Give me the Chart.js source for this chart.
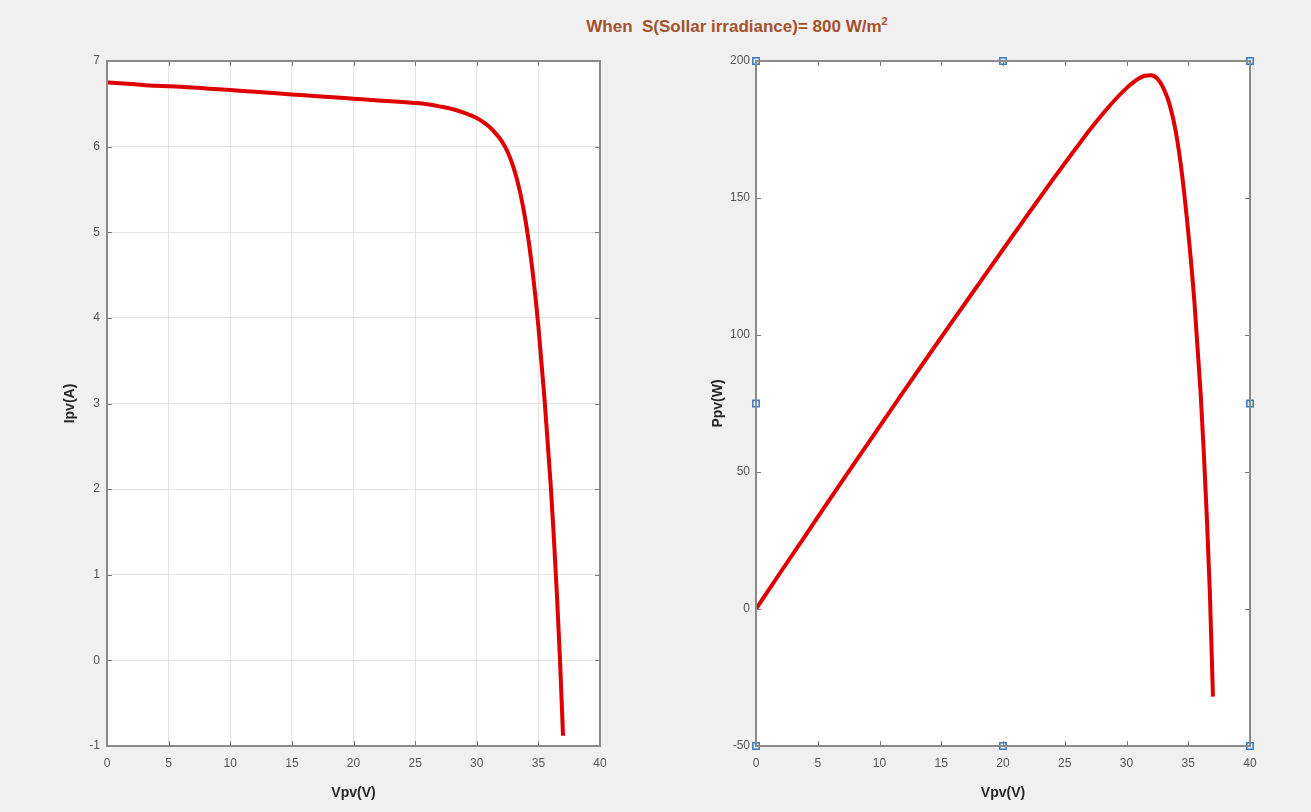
<!DOCTYPE html>
<html>
<head>
<meta charset="utf-8">
<script src="https://cdn.jsdelivr.net/npm/chart.js@4.4.0/dist/chart.umd.min.js"></script>
<style>
  html, body { margin: 0; padding: 0; background: #f0f0f0; }
  #wrap { position: relative; width: 1311px; height: 812px; overflow: hidden; }
  #title {
    position: absolute; left: 0; width: 1474px; top: 15px; text-align: center;
    font-family: "Liberation Sans", Arial, sans-serif; font-weight: bold; font-size: 17px;
    color: #a3522a; white-space: pre;
  }
  #title sup { font-size: 11px; }
  canvas { position: absolute; top: 0; }
  #left { left: 0; }
  #right { left: 660px; }
</style>
</head>
<body>
<div id="wrap">
  <div id="title">When  S(Sollar irradiance)= 800 W/m<sup>2</sup></div>
  <canvas id="left" width="660" height="812"></canvas>
  <canvas id="right" width="651" height="812"></canvas>
</div>
<script>
// PV panel voltage (V)
const vpv = [0, 2, 4, 6, 8, 10, 12, 14, 16, 18, 20, 22, 24, 26, 27, 28, 29, 30, 30.5, 31,
             31.5, 32, 32.5, 33, 33.5, 34, 34.5, 35, 35.5, 36, 36.25, 36.5, 36.75, 37];
// current (A)
const ipv = [6.75, 6.73, 6.71, 6.70, 6.68, 6.66, 6.64, 6.62, 6.60, 6.58, 6.56, 6.54, 6.52, 6.495, 6.47, 6.44, 6.395, 6.335, 6.29, 6.235,
             6.16, 6.07, 5.94, 5.75, 5.48, 5.10, 4.58, 3.90, 3.05, 2.05, 1.45, 0.78, 0.02, -0.88];
// power (W)
const ppv = [0, 13.5, 26.8, 40.2, 53.4, 66.6, 79.7, 92.7, 105.6, 118.4, 131.2, 143.9, 156.5, 168.7, 174.7, 180.3, 185.5, 190.1, 192.0, 193.6,
             194.6, 194.8, 193.6, 190.0, 184.0, 174.0, 158.5, 137.5, 112.0, 79.0, 58.0, 34.0, 6.0, -32.0];

// axis ranges / ticks
const vTicks = [0, 5, 10, 15, 20, 25, 30, 35, 40];
const iTicks = [-1, 0, 1, 2, 3, 4, 5, 6, 7];
const pTicks = [-50, 0, 50, 100, 150, 200];

// selection handles shown on the right axes
const handleX = [0, 20, 40, 0, 20, 40, 0, 40];
const handleY = [200, 200, 200, -50, -50, -50, 75, 75];

const tickFont = { family: 'Liberation Sans, Arial, sans-serif', size: 12 };
const titleFont = { family: 'Liberation Sans, Arial, sans-serif', size: 14, weight: 'bold' };

// box + inward tick marks, like matlab axes
const boxPlugin = {
  id: 'box',
  afterDraw(chart) {
    const { ctx, chartArea: a, scales } = chart;
    ctx.save();
    ctx.strokeStyle = '#7a7a7a';
    ctx.lineWidth = 1;
    const len = 5;
    ctx.beginPath();
    scales.x.ticks.forEach(t => {
      const px = Math.round(scales.x.getPixelForValue(t.value)) + 0.5;
      ctx.moveTo(px, a.bottom); ctx.lineTo(px, a.bottom - len);
      ctx.moveTo(px, a.top); ctx.lineTo(px, a.top + len);
    });
    scales.y.ticks.forEach(t => {
      const py = Math.round(scales.y.getPixelForValue(t.value)) + 0.5;
      ctx.moveTo(a.left, py); ctx.lineTo(a.left + len, py);
      ctx.moveTo(a.right, py); ctx.lineTo(a.right - len, py);
    });
    ctx.stroke();
    ctx.lineWidth = 2;
    ctx.strokeStyle = '#8a8a8a';
    ctx.strokeRect(a.left, a.top, a.right - a.left, a.bottom - a.top);
    ctx.restore();
  }
};

const whiteBg = {
  id: 'whiteBg',
  beforeDraw(chart) {
    const { ctx, chartArea: a } = chart;
    ctx.save();
    ctx.fillStyle = '#ffffff';
    ctx.fillRect(a.left, a.top, a.right - a.left, a.bottom - a.top);
    ctx.restore();
  }
};

function makeChart(id, yVals, yTicks, yLabel, opts) {
  const datasets = [{
    data: vpv.map((v, i) => ({ x: v, y: yVals[i] })),
    showLine: true,
    borderColor: 'rgb(222, 0, 0)',
    borderWidth: 4,
    pointRadius: 0,
    cubicInterpolationMode: 'monotone',
    order: 2
  }];
  if (opts.handles) {
    datasets.push({
      data: handleX.map((x, i) => ({ x: x, y: handleY[i] })),
      pointStyle: 'rect',
      pointRadius: 4.5,
      borderColor: '#3b78bd',
      backgroundColor: '#e3eef9',
      borderWidth: 1.5,
      clip: false,
      order: 1
    });
  }
  return new Chart(document.getElementById(id), {
    type: 'scatter',
    data: { datasets },
    options: {
      responsive: false,
      animation: false,
      layout: { padding: { left: opts.padLeft, top: 61, right: opts.padRight, bottom: 0 } },
      plugins: { legend: { display: false }, tooltip: { enabled: false } },
      scales: {
        x: {
          type: 'linear', min: 0, max: 40,
          afterBuildTicks(s) { s.ticks = vTicks.map(v => ({ value: v })); },
          afterFit(s) { s.height = 66; },
          ticks: { font: tickFont, color: '#555', padding: 10, autoSkip: false, maxRotation: 0 },
          grid: { display: opts.grid, color: '#e4e4e4', drawTicks: false },
          border: { display: false },
          title: { display: true, text: 'Vpv(V)', font: titleFont, color: '#262626', padding: { top: 0, bottom: 10 } }
        },
        y: {
          type: 'linear', min: yTicks[0], max: yTicks[yTicks.length - 1],
          afterBuildTicks(s) { s.ticks = yTicks.map(v => ({ value: v })); },
          afterFit(s) { s.width = opts.yWidth; },
          ticks: { font: tickFont, color: '#555', padding: opts.yPad, autoSkip: false },
          grid: { display: opts.grid, color: '#e4e4e4', drawTicks: false },
          border: { display: false },
          title: { display: true, text: yLabel, font: titleFont, color: '#262626', padding: { top: opts.titlePad, bottom: 0 } }
        }
      }
    },
    plugins: [whiteBg, boxPlugin]
  });
}

makeChart('left', ipv, iTicks, 'Ipv(A)', { padLeft: 50, padRight: 60, yWidth: 57, yPad: 7, titlePad: 12, grid: true, handles: false });
makeChart('right', ppv, pTicks, 'Ppv(W)', { padLeft: 40, padRight: 61, yWidth: 56, yPad: 6, titlePad: 10, grid: false, handles: true });
</script>
</body>
</html>
